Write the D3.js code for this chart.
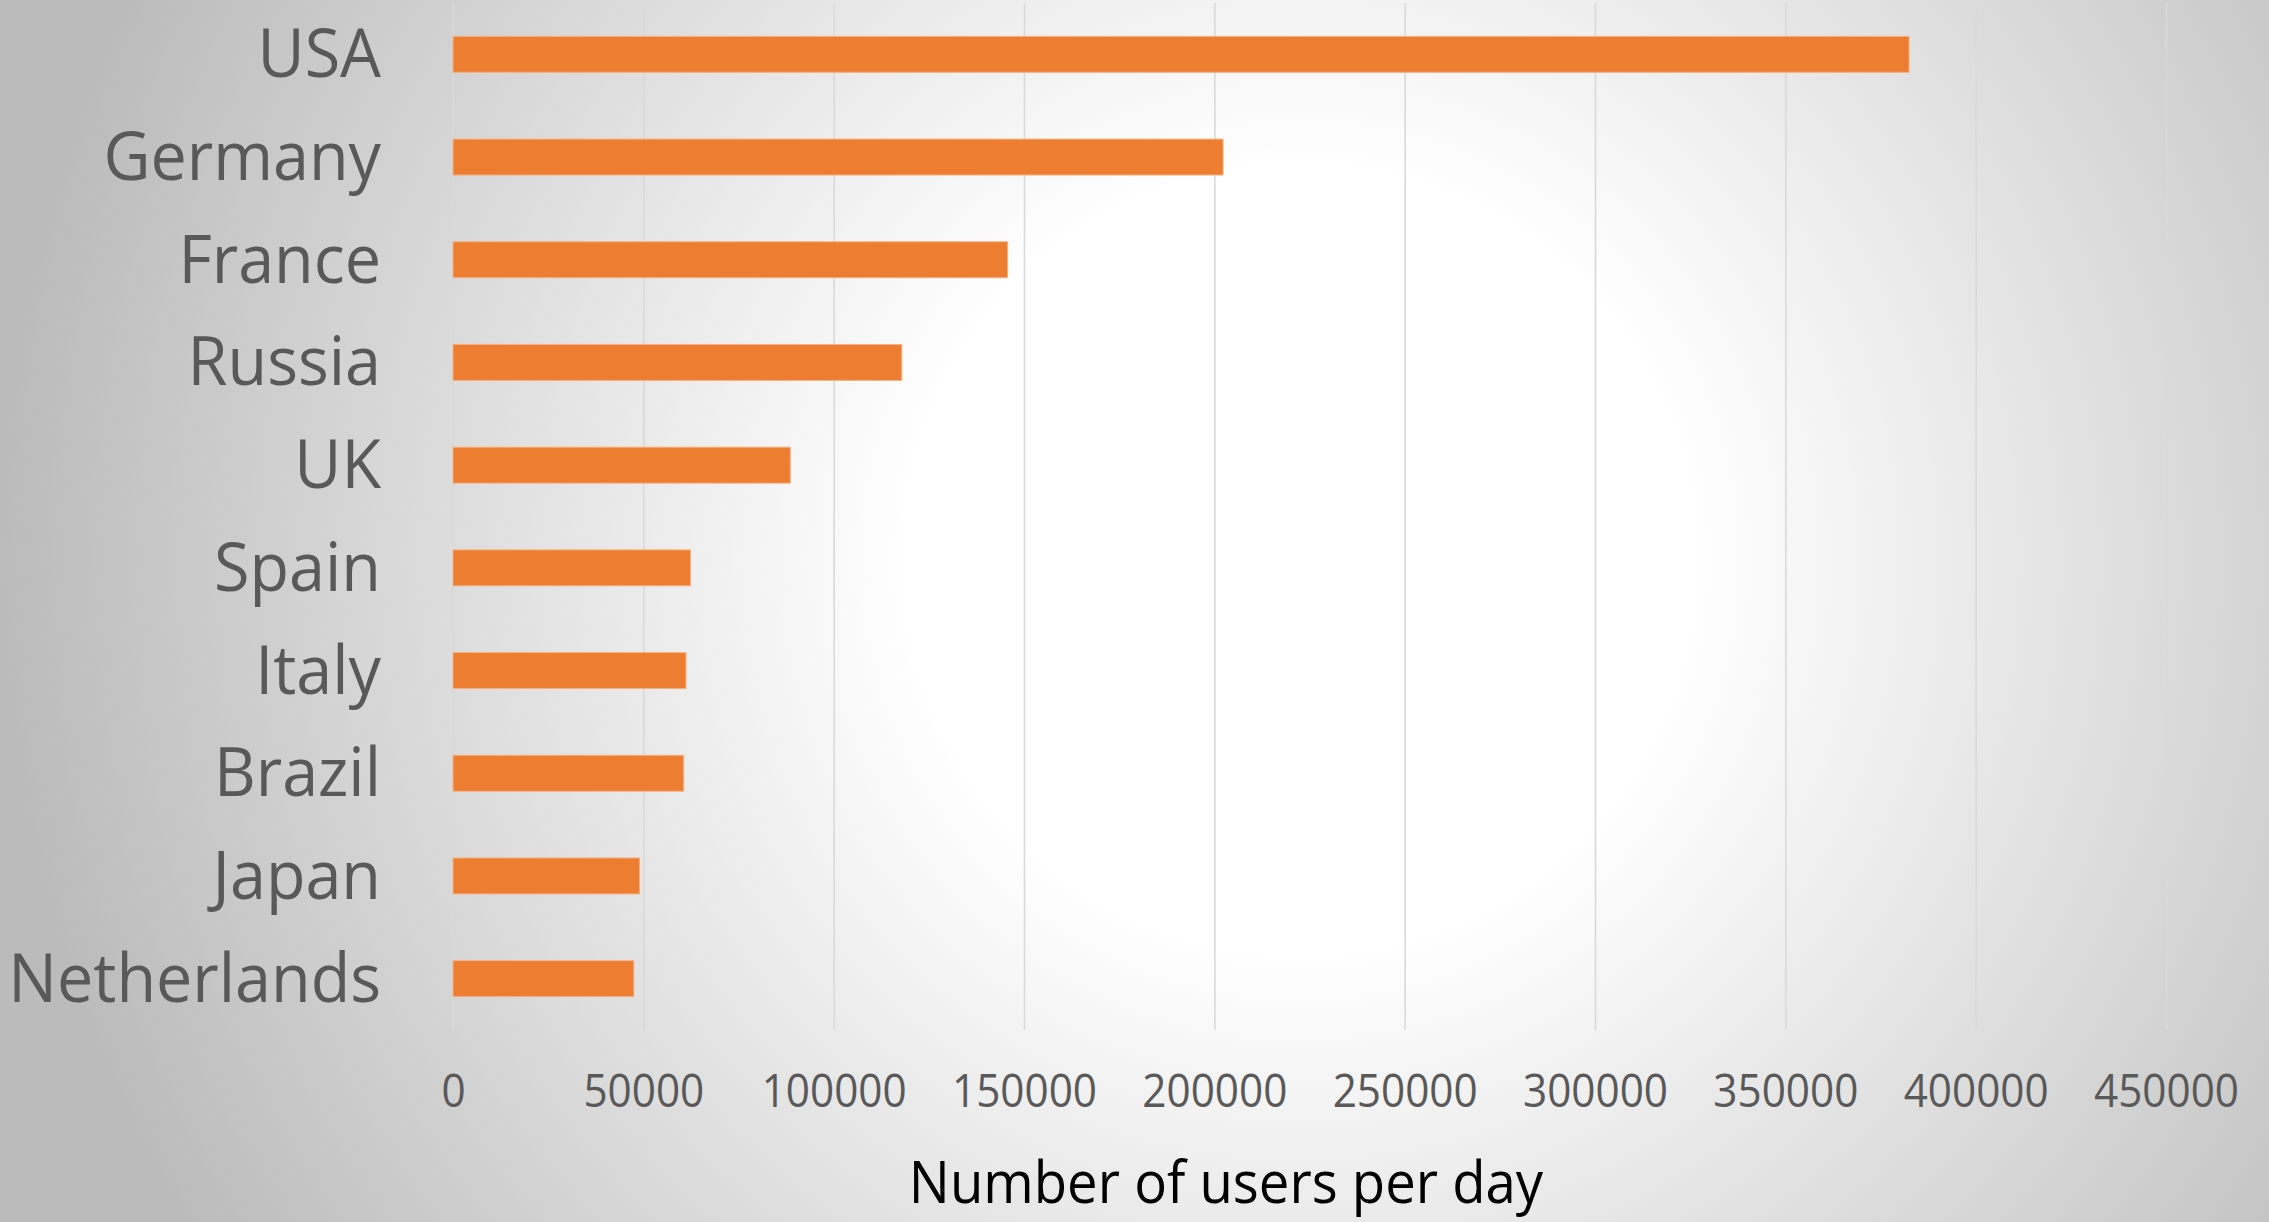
<!DOCTYPE html>
<html><head><meta charset="utf-8">
<script src="https://cdn.jsdelivr.net/npm/d3@7"></script>
<style>html,body{margin:0;padding:0;overflow:hidden;background:#fff}</style>
</head><body><svg id="chart" width="2269" height="1222"></svg>
<script>
// ---- data ----
const categories = ["USA","Germany","France","Russia","UK","Spain","Italy","Brazil","Japan","Netherlands"];
const users = [382500, 202300, 145700, 117900, 88600, 62400, 61200, 60600, 49000, 47500];
const xTicks = [0, 50000, 100000, 150000, 200000, 250000, 300000, 350000, 400000, 450000];
const xTickLabels = ["0","50000","100000","150000","200000","250000","300000","350000","400000","450000"];
const xTitle = "Number of users per day";

// ---- layout ----
const W = 2269, H = 1222;
const plot = {left: 453, right: 2166, top: 3, bottom: 1030};
const FONT = "'Open Sans', 'Noto Sans', sans-serif";

const svg = d3.select("#chart");
const defs = svg.append("defs");
const grad = defs.append("radialGradient").attr("id","bg")
  .attr("gradientUnits","userSpaceOnUse")
  .attr("cx",1300).attr("cy",560).attr("r",1300).attr("fx",1300).attr("fy",560);
grad.append("stop").attr("offset","0").attr("stop-color","#ffffff");
grad.append("stop").attr("offset","0.3").attr("stop-color","#ffffff");
grad.append("stop").attr("offset","1").attr("stop-color","#bbbbbb");
svg.append("rect").attr("width",W).attr("height",H).attr("fill","url(#bg)");

const data = categories.map((c,i)=>({cat:c, val:users[i]}));

const x = d3.scaleLinear().domain([0, 450000]).range([plot.left, plot.right]);
const y = d3.scaleBand().domain(categories).range([plot.top, plot.bottom])
  .paddingInner(0.65).paddingOuter(0.325);

// x axis with gridlines
const xAxis = d3.axisBottom(x).tickValues(xTicks)
  .tickFormat((d,i)=>xTickLabels[i])
  .tickSize(-(plot.bottom-plot.top)).tickSizeOuter(0);
const gx = svg.append("g").attr("transform",`translate(0,${plot.bottom})`).call(xAxis);
gx.select(".domain").remove();
gx.selectAll(".tick line").attr("stroke","#d9d9d9").attr("stroke-width",1.6);
gx.selectAll(".tick text")
  .attr("font-family",FONT).attr("font-size",45).attr("fill","#595959")
  .attr("dy",null).attr("y",null).attr("x",null)
  .attr("text-anchor","middle")
  .attr("transform",`translate(0,${1107-plot.bottom}) scale(0.94,1)`);

// bars
svg.append("g").selectAll("rect").data(data).join("rect")
  .attr("x", x(0))
  .attr("y", d=>y(d.cat))
  .attr("width", d=>x(d.val)-x(0))
  .attr("height", y.bandwidth())
  .attr("fill","#ed7d31")
  .attr("stroke","#f4b183").attr("stroke-width",1);

// y axis labels
const yAxis = d3.axisLeft(y).tickSize(0).tickPadding(0);
const gy = svg.append("g").attr("transform",`translate(381,0)`).call(yAxis);
gy.select(".domain").remove();
gy.selectAll(".tick text")
  .attr("font-family",FONT).attr("font-size",67).attr("fill","#595959")
  .attr("dy",null).attr("x",null)
  .attr("text-anchor","end")
  .attr("transform",`translate(0,23) scale(0.965,1)`);

// x title
svg.append("text")
  .attr("font-family",FONT).attr("font-size",58).attr("fill","#000")
  .attr("text-anchor","middle")
  .attr("transform",`translate(1226,1203) scale(0.94,1)`)
  .text(xTitle);
</script>
</body></html>
